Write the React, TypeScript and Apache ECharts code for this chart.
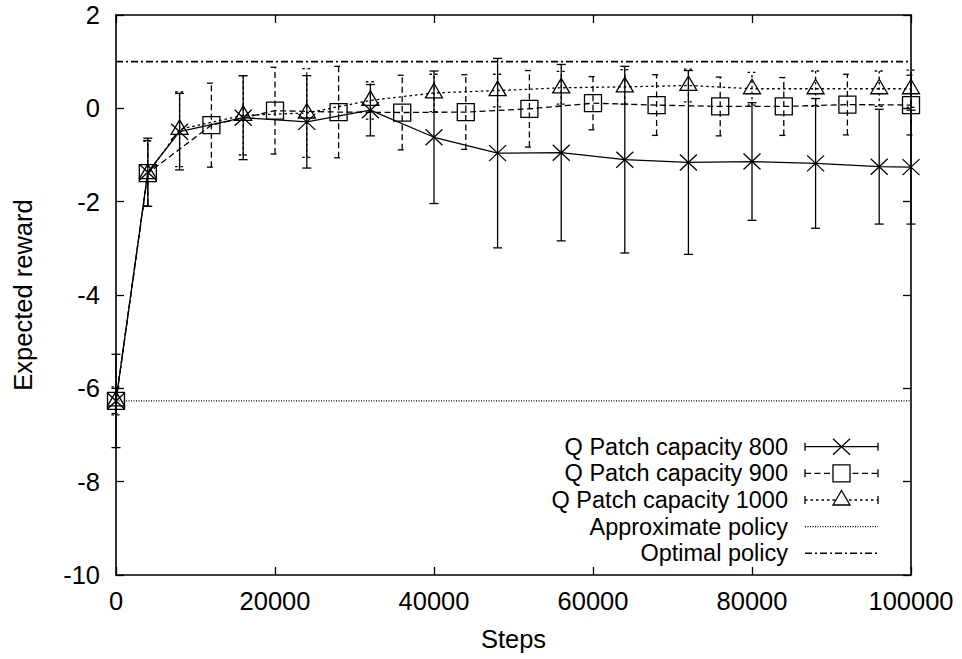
import React, { useEffect, useRef } from "react";
import * as echarts from "echarts";

// ---- data ----
const steps800 = [0, 4000, 8000, 16000, 24000, 32000, 40000, 48000, 56000, 64000, 72000, 80000, 88000, 96000, 100000];
const mean800 = [-6.27, -1.37, -0.5, -0.2, -0.29, -0.04, -0.62, -0.96, -0.95, -1.1, -1.16, -1.14, -1.18, -1.25, -1.26];
const err800 = [1.0, 0.73, 0.82, 0.9, 0.99, 0.55, 1.42, 2.03, 1.89, 2.0, 1.97, 1.26, 1.39, 1.23, 1.22];

const steps900 = [0, 4000, 12000, 20000, 28000, 36000, 44000, 52000, 60000, 68000, 76000, 84000, 92000, 100000];
const mean900 = [-6.27, -1.39, -0.36, -0.05, -0.08, -0.09, -0.08, -0.01, 0.11, 0.07, 0.04, 0.04, 0.08, 0.07];
const err900 = [0.27, 0.7, 0.9, 0.93, 0.98, 0.8, 0.8, 0.82, 0.57, 0.65, 0.63, 0.62, 0.65, 0.64];

const steps1000 = [0, 4000, 8000, 16000, 24000, 32000, 40000, 48000, 56000, 64000, 72000, 80000, 88000, 96000, 100000];
const mean1000 = [-6.27, -1.4, -0.45, -0.15, -0.1, 0.17, 0.33, 0.38, 0.44, 0.46, 0.49, 0.42, 0.42, 0.42, 0.42];
const err1000 = [0.3, 0.7, 0.8, 0.85, 0.95, 0.4, 0.4, 0.35, 0.35, 0.37, 0.35, 0.35, 0.38, 0.38, 0.4];

const approxPolicy = -6.27;
const optimalPolicy = 1.0;

const xRange = [0, 100000];
const xInterval = 20000;
const yRange = [-10, 2];
const yInterval = 2;

const legendLabels = [
  "Q Patch capacity 800",
  "Q Patch capacity 900",
  "Q Patch capacity 1000",
  "Approximate policy",
  "Optimal policy",
];

// ---- styles ----
const FONT = "'Liberation Sans', Arial, Helvetica, sans-serif";
const FS = 25.5;
const FS_LEGEND = 23.5;
const LW = 1.3;
const SOLID: number[] | null = null;
const DASH_900 = [6, 3.5];
const DOT_1000 = [2.5, 3];
const DOT_APPROX = [1, 1.5];
const DASHDOT = [7, 3, 2, 3];

type Marker = "x" | "square" | "triangle";

function markerShapes(kind: Marker, cx: number, cy: number, style: any): any[] {
  if (kind === "x") {
    return [
      { type: "line", shape: { x1: cx - 8.5, y1: cy - 8, x2: cx + 8.5, y2: cy + 8 }, style },
      { type: "line", shape: { x1: cx - 8.5, y1: cy + 8, x2: cx + 8.5, y2: cy - 8 }, style },
    ];
  }
  if (kind === "square") {
    return [{ type: "rect", shape: { x: cx - 8.5, y: cy - 8.5, width: 17, height: 17 }, style }];
  }
  return [
    {
      type: "polygon",
      shape: { points: [[cx, cy - 9.5], [cx - 8.5, cy + 5], [cx + 8.5, cy + 5]] },
      style,
    },
  ];
}

function errorSeries(name: string, steps: number[], mean: number[], err: number[], dash: number[] | null, marker: Marker) {
  return {
    type: "custom",
    name,
    xAxisIndex: 0,
    yAxisIndex: 0,
    z: 3,
    clip: false,
    silent: true,
    data: steps.map((s, i) => [s, mean[i] - err[i], mean[i] + err[i], mean[i]]),
    renderItem: (_params: any, api: any) => {
      const x = api.value(0);
      const lo = api.coord([x, api.value(1)]);
      const hi = api.coord([x, api.value(2)]);
      const c = api.coord([x, api.value(3)]);
      const ls: any = { stroke: "#000", lineWidth: LW, fill: null };
      if (dash) ls.lineDash = dash;
      const ms = { stroke: "#000", lineWidth: LW, fill: null };
      return {
        type: "group",
        children: [
          { type: "line", shape: { x1: lo[0], y1: lo[1], x2: hi[0], y2: hi[1] }, style: ls },
          { type: "line", shape: { x1: lo[0] - 4.5, y1: lo[1], x2: lo[0] + 4.5, y2: lo[1] }, style: ls },
          { type: "line", shape: { x1: hi[0] - 4.5, y1: hi[1], x2: hi[0] + 4.5, y2: hi[1] }, style: ls },
          ...markerShapes(marker, c[0], c[1], ms),
        ],
      };
    },
  };
}

function lineSeries(name: string, data: number[][], dash: number[] | null, width = LW) {
  return {
    type: "line",
    name,
    xAxisIndex: 0,
    yAxisIndex: 0,
    data,
    symbol: "none",
    silent: true,
    z: 2,
    lineStyle: { color: "#000", width, type: dash ? dash : "solid" },
  };
}

function legendGraphics(): any[] {
  const textRight = 788;
  const x1 = 805;
  const x2 = 878;
  const mx = 841.5;
  const y0 = 446.7;
  const dy = 26.65;
  const items: { dash: number[] | null; marker: Marker | null; caps: boolean; w: number }[] = [
    { dash: SOLID, marker: "x", caps: true, w: LW },
    { dash: DASH_900, marker: "square", caps: true, w: LW },
    { dash: DOT_1000, marker: "triangle", caps: true, w: LW },
    { dash: DOT_APPROX, marker: null, caps: false, w: LW },
    { dash: DASHDOT, marker: null, caps: false, w: 1.6 },
  ];
  const out: any[] = [];
  items.forEach((it, i) => {
    const y = y0 + i * dy;
    out.push({
      type: "text",
      x: textRight,
      y: y,
      style: {
        text: legendLabels[i],
        fontSize: FS_LEGEND,
        fontFamily: FONT,
        fill: "#000",
        textAlign: "right",
        textVerticalAlign: "middle",
      },
    });
    const ls: any = { stroke: "#000", lineWidth: it.w, fill: null };
    if (it.dash) ls.lineDash = it.dash;
    out.push({ type: "line", shape: { x1, y1: y, x2, y2: y }, style: ls });
    if (it.caps) {
      const cs = { stroke: "#000", lineWidth: LW };
      out.push({ type: "line", shape: { x1: x1, y1: y - 4, x2: x1, y2: y + 4 }, style: cs });
      out.push({ type: "line", shape: { x1: x2, y1: y - 4, x2: x2, y2: y + 4 }, style: cs });
    }
    if (it.marker) {
      const ms = { stroke: "#000", lineWidth: LW, fill: "#fff" };
      markerShapes(it.marker, mx, y, ms).forEach((m) => out.push(m));
    }
  });
  return out;
}

export default function App() {
  const ref = useRef<HTMLDivElement>(null);

  useEffect(() => {
    if (!ref.current) return;
    const chart = echarts.init(ref.current, null, { renderer: "svg" });
    const axisLine = { show: true, onZero: false, lineStyle: { color: "#000", width: 1.6 } };
    const axisTick = { show: true, inside: true, length: 8, lineStyle: { color: "#000", width: LW } };
    const labelStyle = { color: "#000", fontSize: FS, fontFamily: FONT };
    const nameStyle = { color: "#000", fontSize: FS, fontFamily: FONT };
    const plain = (v: number) => String(v);

    chart.setOption({
      animation: false,
      backgroundColor: "#fff",
      grid: { left: 116, right: 51, top: 15, bottom: 84, containLabel: false },
      xAxis: [
        {
          type: "value",
          position: "bottom",
          min: xRange[0],
          max: xRange[1],
          interval: xInterval,
          axisLine,
          axisTick,
          axisLabel: { ...labelStyle, margin: 13, formatter: plain },
          splitLine: { show: false },
          name: "Steps",
          nameLocation: "middle",
          nameGap: 51,
          nameTextStyle: nameStyle,
        },
        {
          type: "value",
          position: "top",
          min: xRange[0],
          max: xRange[1],
          interval: xInterval,
          axisLine,
          axisTick,
          axisLabel: { show: false },
          splitLine: { show: false },
        },
      ],
      yAxis: [
        {
          type: "value",
          position: "left",
          min: yRange[0],
          max: yRange[1],
          interval: yInterval,
          axisLine,
          axisTick,
          axisLabel: { ...labelStyle, margin: 16, formatter: plain },
          splitLine: { show: false },
          name: "Expected reward",
          nameLocation: "middle",
          nameGap: 80,
          nameRotate: 90,
          nameTextStyle: nameStyle,
        },
        {
          type: "value",
          position: "right",
          min: yRange[0],
          max: yRange[1],
          interval: yInterval,
          axisLine,
          axisTick,
          axisLabel: { show: false },
          splitLine: { show: false },
        },
      ],
      series: [
        lineSeries("Approximate policy", [[xRange[0], approxPolicy], [xRange[1], approxPolicy]], DOT_APPROX),
        lineSeries("Optimal policy", [[xRange[0], optimalPolicy], [xRange[1], optimalPolicy]], DASHDOT, 1.6),
        lineSeries("Q Patch capacity 800", steps800.map((s, i) => [s, mean800[i]]), SOLID),
        lineSeries("Q Patch capacity 900", steps900.map((s, i) => [s, mean900[i]]), DASH_900),
        lineSeries("Q Patch capacity 1000", steps1000.map((s, i) => [s, mean1000[i]]), DOT_1000),
        errorSeries("Q Patch capacity 800 error", steps800, mean800, err800, SOLID, "x"),
        errorSeries("Q Patch capacity 900 error", steps900, mean900, err900, DASH_900, "square"),
        errorSeries("Q Patch capacity 1000 error", steps1000, mean1000, err1000, DOT_1000, "triangle"),
      ],
      graphic: legendGraphics(),
    });
    return () => chart.dispose();
  }, []);

  return (
    <div
      ref={ref}
      style={{ position: "absolute", left: 0, top: 0, width: 962, height: 659, background: "#fff" }}
    />
  );
}
